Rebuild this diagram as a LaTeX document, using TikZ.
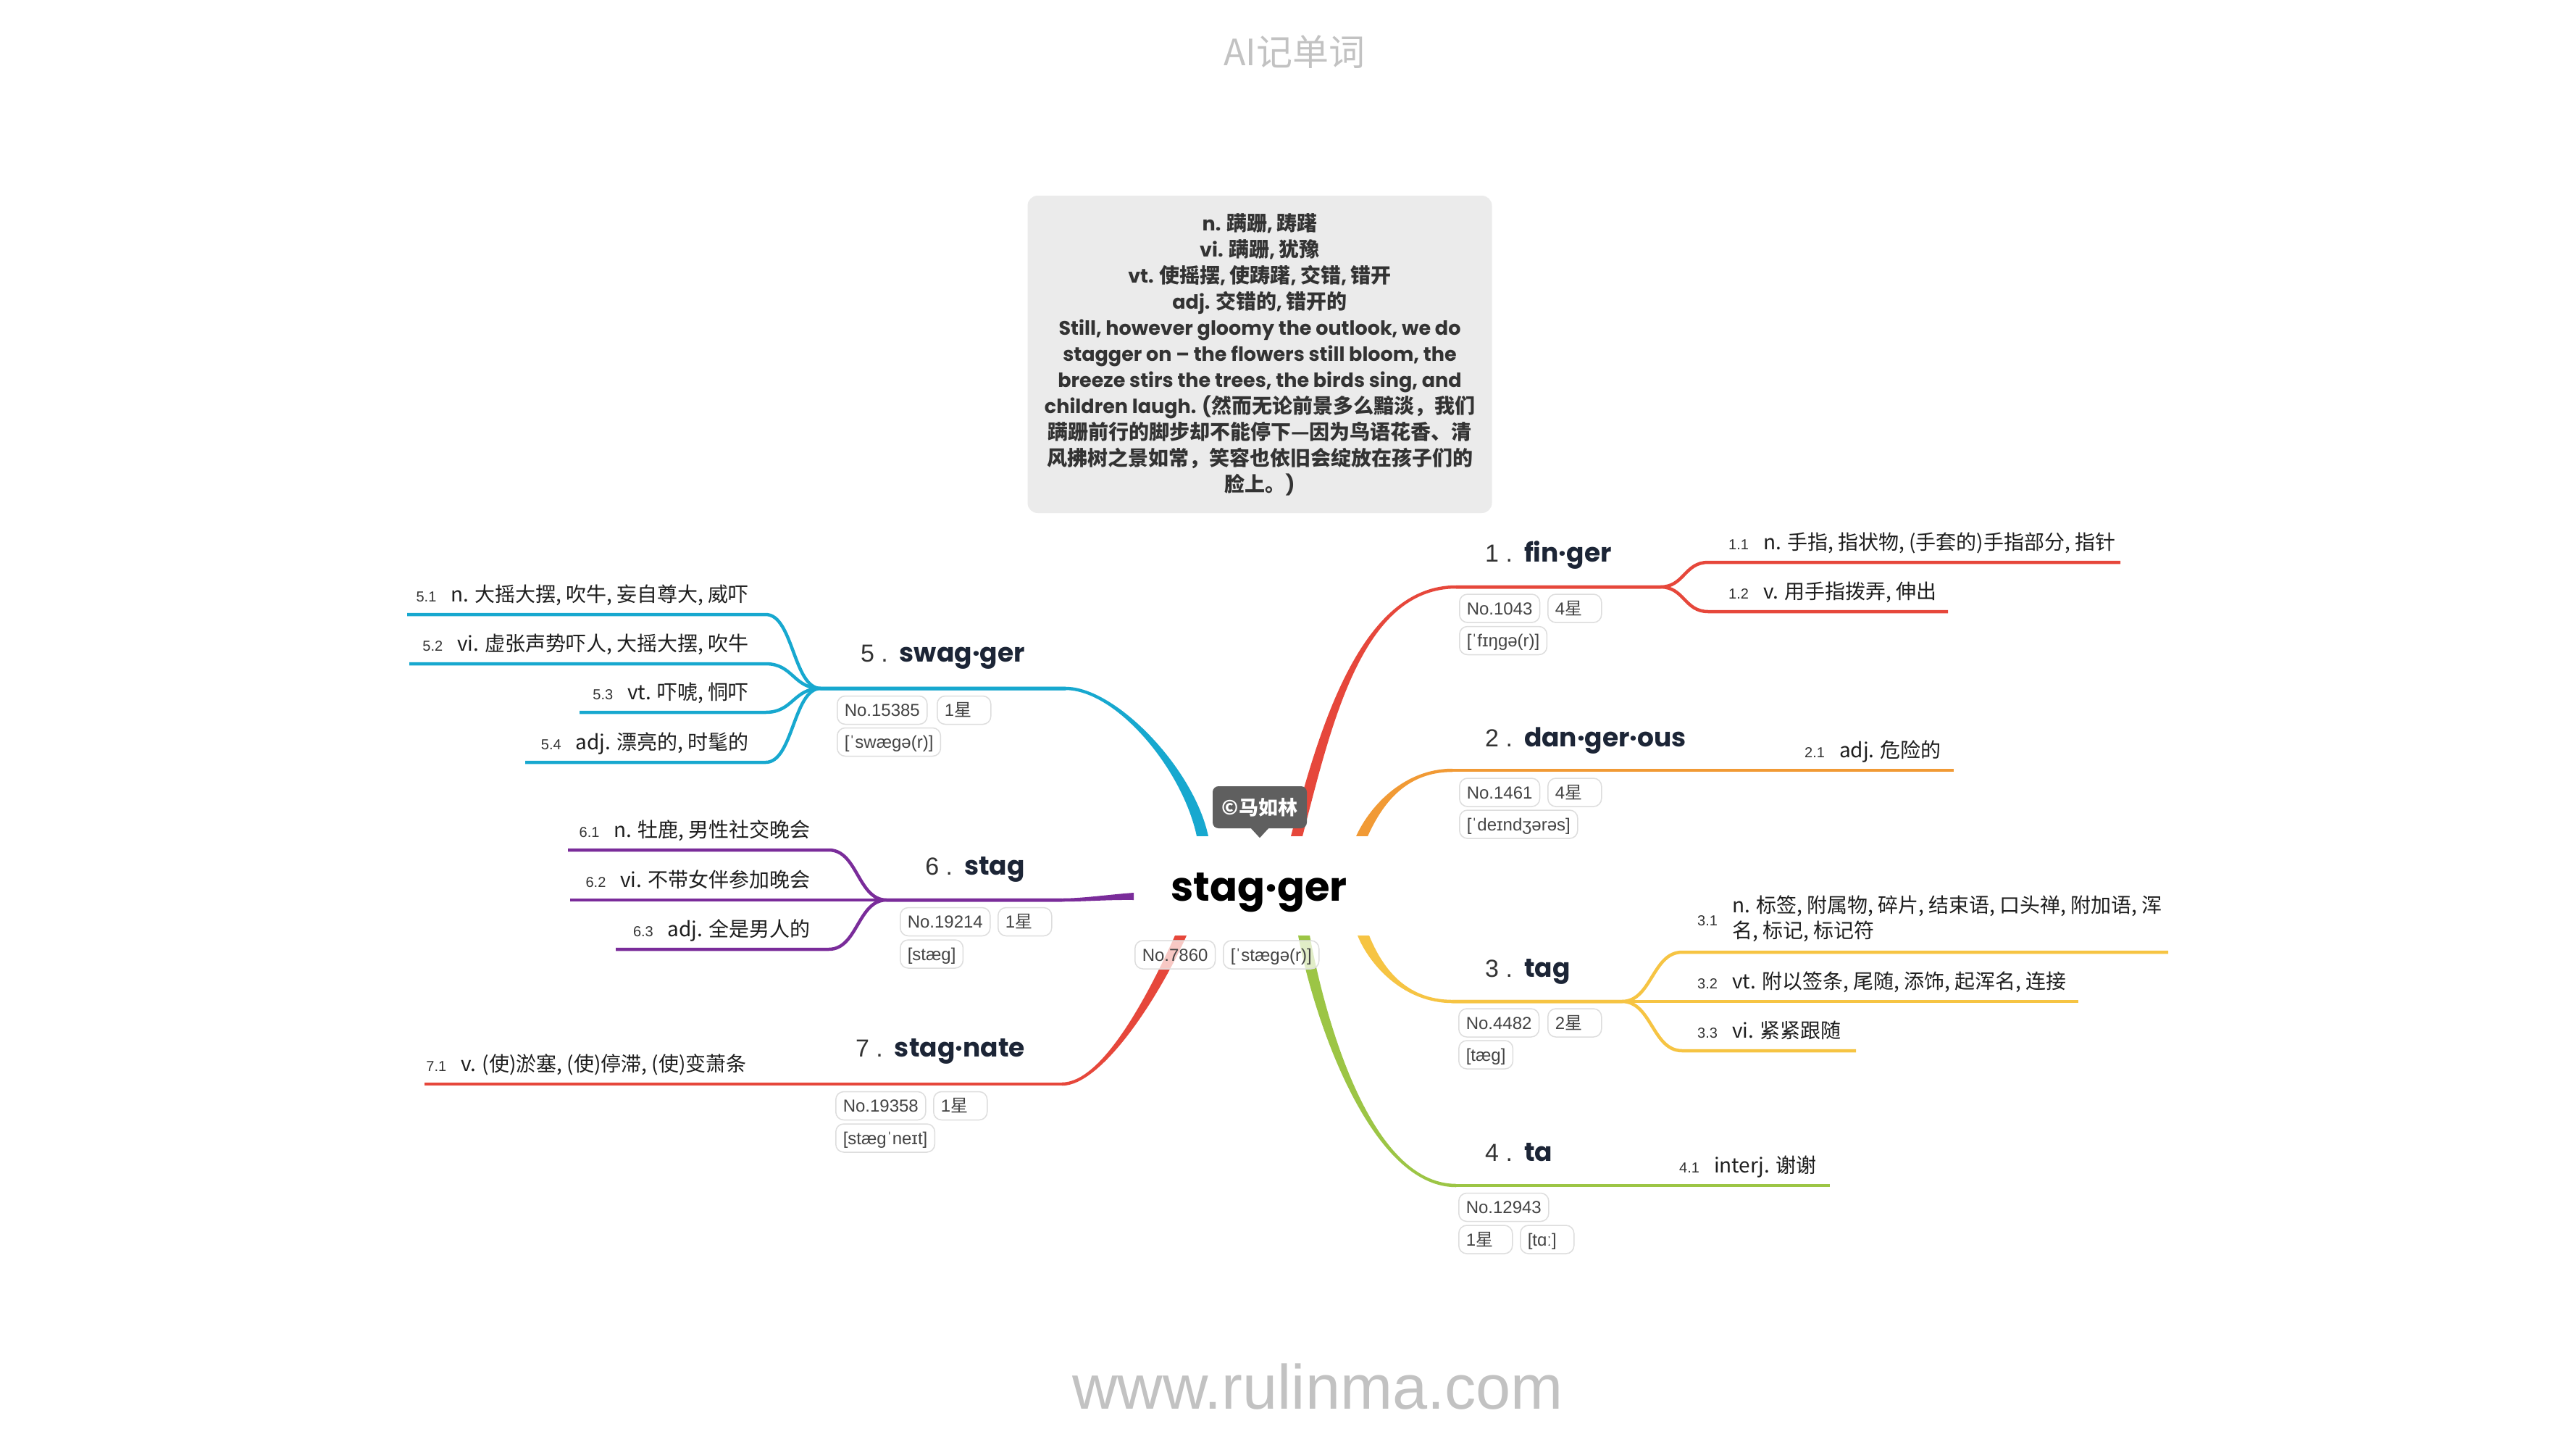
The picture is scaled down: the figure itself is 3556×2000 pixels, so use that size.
\documentclass[tikz,border=0pt]{standalone}
\usepackage{fontspec}
\setmainfont{Liberation Sans}
\newfontfamily\zhfont{Noto Sans CJK SC}
\newfontfamily\popfont{Poppins}
\newfontfamily\libfont{Liberation Sans}
\usetikzlibrary{calc}
\definecolor{cred}{HTML}{E6473B}
\definecolor{corange}{HTML}{F19A35}
\definecolor{cyellow}{HTML}{F6C443}
\definecolor{cgreen}{HTML}{9CC545}
\definecolor{ccyan}{HTML}{17A8CF}
\definecolor{cpurple}{HTML}{7A2C9A}
\definecolor{navy}{HTML}{1C2536}
\definecolor{boxgrey}{HTML}{EBEBEB}
\definecolor{txtgrey}{HTML}{333333}
\definecolor{subtext}{HTML}{1E1E1E}
\definecolor{tagborder}{HTML}{DDDDDD}
\definecolor{tagtext}{HTML}{444444}
\definecolor{bubblegrey}{HTML}{5F5F5F}
\definecolor{wm}{HTML}{C2C2C2}
\newcommand\zh[1]{{\zhfont\bfseries\fontsize{28pt}{36pt}\selectfont #1}}
\newcommand\xing{{\zhfont 星}}
\newcommand\subno[1]{{\libfont\fontsize{20pt}{20pt}\selectfont\color{txtgrey}#1}\hspace{20pt}}
\newcommand\brno[1]{{\libfont\mdseries\fontsize{34pt}{36pt}\selectfont\color{txtgrey}#1\ .}\hspace{16pt}}
\newcommand\trunk[7]{\fill[#1] ($(#2)-(#6,0)$) .. controls ($(#3)-(#6,0)$) and ($(#4)-(0,#7)$) .. ($(#5)-(0,#7)$) -- ($(#5)+(0,#7)$) .. controls ($(#4)+(0,#7)$) and ($(#3)+(#6,0)$) .. ($(#2)+(#6,0)$) -- cycle;}
\tikzset{
  cline/.style={draw=#1, line width=4.5pt, line join=round},
  tagbox/.style={draw=tagborder, line width=1.5pt, rounded corners=11pt, fill=white, fill opacity=0.7, text opacity=1, text=tagtext, font=\libfont\fontsize{24pt}{26pt}\selectfont, inner xsep=10pt, inner ysep=0pt, text height=19pt, text depth=2pt, minimum height=39pt, minimum width=74pt, anchor=west},
  shorttag/.style={tagbox, text width=54pt, align=left},
  sublabel/.style={inner sep=0pt, text=subtext, font=\zhfont\fontsize{28pt}{35pt}\selectfont},
  brtitle/.style={inner sep=0pt, text=navy, font=\popfont\bfseries\fontsize{36pt}{40pt}\selectfont},
}
\begin{document}
\begin{tikzpicture}[x=1pt,y=-1pt]
\useasboundingbox (0,0) rectangle (3556,2000);
\fill[white] (0,0) rectangle (3556,2000);

% header and footer
\node[font=\zhfont\fontsize{50pt}{55pt}\selectfont, text=wm, anchor=base, inner sep=0pt] (apptitle) at (1787,90) {AI记单词};
\node[font=\libfont\fontsize{86.5pt}{90pt}\selectfont, text=wm, anchor=base, inner sep=0pt] (site) at (1819,1944) {www.rulinma.com};

% definition box
\node[fill=boxgrey, rounded corners=14pt, minimum width=641pt, minimum height=438pt, inner sep=0pt, align=center, text=txtgrey, font=\popfont\bfseries\fontsize{27pt}{36pt}\selectfont] (defbox) at (1739,489) {%
n. \zh{蹒跚}, \zh{踌躇}\\
vi. \zh{蹒跚}, \zh{犹豫}\\
vt. \zh{使摇摆}, \zh{使踌躇}, \zh{交错}, \zh{错开}\\
adj. \zh{交错的}, \zh{错开的}\\
Still, however gloomy the outlook, we do\\
stagger on – the flowers still bloom, the\\
breeze stirs the trees, the birds sing, and\\
children laugh. (\zh{然而无论前景多么黯淡，我们}\\
\zh{蹒跚前行的脚步却不能停下—因为鸟语花香、清}\\
\zh{风拂树之景如常，笑容也依旧会绽放在孩子们的}\\
\zh{脸上。})};

% trunk coordinates
\coordinate (t1s) at (1790,1154); \coordinate (t1a) at (1830,1000); \coordinate (t1b) at (1880,810); \coordinate (e1) at (2010,810);
\coordinate (t2s) at (1880,1154); \coordinate (t2a) at (1900,1110); \coordinate (t2b) at (1940,1063); \coordinate (e2) at (2005,1063);
\coordinate (t3s) at (1882,1291); \coordinate (t3a) at (1900,1335); \coordinate (t3b) at (1940,1382); \coordinate (e3) at (2005,1382);
\coordinate (t4s) at (1800,1291); \coordinate (t4a) at (1820,1400); \coordinate (t4b) at (1890,1636); \coordinate (e4) at (2010,1636);
\coordinate (t5s) at (1660,1154); \coordinate (t5a) at (1640,1060); \coordinate (t5b) at (1540,950); \coordinate (e5) at (1471,950);
\coordinate (t7s) at (1630,1291); \coordinate (t7a) at (1590,1380); \coordinate (t7b) at (1520,1496); \coordinate (e7) at (1466,1496);
\coordinate (e6) at (1466,1242);

\trunk{cred}{t1s}{t1a}{t1b}{e1}{8}{2.25}
\trunk{corange}{t2s}{t2a}{t2b}{e2}{8}{2.25}
\trunk{cyellow}{t3s}{t3a}{t3b}{e3}{8}{-2.25}
\trunk{cgreen}{t4s}{t4a}{t4b}{e4}{8}{-2.25}
\trunk{ccyan}{t5s}{t5a}{t5b}{e5}{8}{-2.25}
\trunk{cred}{t7s}{t7a}{t7b}{e7}{8}{2.25}
\fill[cpurple] (1565,1232) .. controls (1530,1234.5) and (1495,1239.75) .. ($(e6)-(0,2.25)$) -- ($(e6)+(0,2.25)$) .. controls (1495,1244.25) and (1530,1241.5) .. (1565,1242) -- cycle;

% branch 1 sub lines
\coordinate (f1) at (2292,810);
\coordinate (s11) at (2358,776); \coordinate (x11) at (2927,776);
\coordinate (s12) at (2358,844); \coordinate (x12) at (2689,844);
\draw[cline=cred] (e1) -- (f1) .. controls ($(f1)+(33,0)$) and ($(s11)-(33,0)$) .. (s11) -- (x11);
\draw[cline=cred] (e1) -- (f1) .. controls ($(f1)+(33,0)$) and ($(s12)-(33,0)$) .. (s12) -- (x12);
% branch 2
\coordinate (x21) at (2697,1063);
\draw[cline=corange] (e2) -- (x21);
% branch 3
\coordinate (f3) at (2239,1382);
\coordinate (s31) at (2322,1314); \coordinate (x31) at (2993,1314);
\coordinate (x32) at (2869,1382);
\coordinate (s33) at (2322,1450); \coordinate (x33) at (2562,1450);
\draw[cline=cyellow] (e3) -- (f3) .. controls ($(f3)+(41,0)$) and ($(s31)-(41,0)$) .. (s31) -- (x31);
\draw[cline=cyellow] (e3) -- (x32);
\draw[cline=cyellow] (e3) -- (f3) .. controls ($(f3)+(41,0)$) and ($(s33)-(41,0)$) .. (s33) -- (x33);
% branch 4
\coordinate (x41) at (2526,1636);
\draw[cline=cgreen] (e4) -- (x41);
% branch 5
\coordinate (f5) at (1133,950);
\coordinate (s51) at (1057,848); \coordinate (x51) at (562,848);
\coordinate (s52) at (1057,916); \coordinate (x52) at (565,916);
\coordinate (s53) at (1057,983); \coordinate (x53) at (800,983);
\coordinate (s54) at (1057,1052); \coordinate (x54) at (725,1052);
\foreach \k in {51,52,53,54}{
  \draw[cline=ccyan] (e5) -- (f5) .. controls ($(f5)-(38,0)$) and ($(s\k)+(38,0)$) .. (s\k) -- (x\k);
}
% branch 6
\coordinate (f6) at (1224,1242);
\coordinate (s61) at (1144,1173); \coordinate (x61) at (784,1173);
\coordinate (x62) at (787,1242);
\coordinate (s63) at (1144,1310); \coordinate (x63) at (850,1310);
\draw[cline=cpurple] (e6) -- (f6) .. controls ($(f6)-(40,0)$) and ($(s61)+(40,0)$) .. (s61) -- (x61);
\draw[cline=cpurple] (e6) -- (x62);
\draw[cline=cpurple] (e6) -- (f6) .. controls ($(f6)-(40,0)$) and ($(s63)+(40,0)$) .. (s63) -- (x63);
% branch 7
\coordinate (x71) at (586,1496);
\draw[cline=cred] (e7) -- (x71);

% central node
\node[anchor=base, fill=white, inner sep=0pt, text height=89pt, text depth=48pt, minimum width=345pt, font=\popfont\bfseries\fontsize{56pt}{60pt}\selectfont] (center) at (1738,1243) {stag·ger};
\node[fill=bubblegrey, rounded corners=8pt, text=white, font=\zhfont\bfseries\fontsize{27pt}{30pt}\selectfont, minimum width=130pt, minimum height=58pt, inner sep=0pt] (copy) at (1739,1114) {©马如林};
\fill[bubblegrey] ($(copy.south)+(-12,0)$) -- ($(copy.south)+(0,13)$) -- ($(copy.south)+(12,0)$) -- cycle;
\node[tagbox] (cn) at (1566,1317.5) {No.7860};
\node[tagbox] (cp) at (1688,1317.5) {[ˈstægə(r)]};

% branch titles and tags
\node[brtitle, anchor=base west] (b1) at (2050,775) {\brno{1}fin·ger};
\node[tagbox] (b1n) at (2014,839.5) {No.1043};
\node[shorttag] (b1s) at (2136,839.5) {4\xing};
\node[tagbox] (b1p) at (2014,884) {[ˈfɪŋgə(r)]};

\node[brtitle, anchor=base west] (b2) at (2050,1030) {\brno{2}dan·ger·ous};
\node[tagbox] (b2n) at (2014,1093.5) {No.1461};
\node[shorttag] (b2s) at (2136,1093.5) {4\xing};
\node[tagbox] (b2p) at (2014,1137.5) {[ˈdeɪndʒərəs]};

\node[brtitle, anchor=base west] (b3) at (2050,1348) {\brno{3}tag};
\node[tagbox] (b3n) at (2013,1411.5) {No.4482};
\node[shorttag] (b3s) at (2136,1411.5) {2\xing};
\node[tagbox] (b3p) at (2013,1455.5) {[tæg]};

\node[brtitle, anchor=base west] (b4) at (2050,1602) {\brno{4}ta};
\node[tagbox] (b4n) at (2013,1666) {No.12943};
\node[shorttag] (b4s) at (2013,1710.5) {1\xing};
\node[shorttag] (b4p) at (2098,1710.5) {[tɑː]};

\node[brtitle, anchor=base east] (b5) at (1415,913) {\brno{5}swag·ger};
\node[tagbox] (b5n) at (1155,980) {No.15385};
\node[shorttag] (b5s) at (1293,980) {1\xing};
\node[tagbox] (b5p) at (1155,1024) {[ˈswægə(r)]};

\node[brtitle, anchor=base east] (b6) at (1415,1207) {\brno{6}stag};
\node[tagbox] (b6n) at (1242,1272) {No.19214};
\node[shorttag] (b6s) at (1377,1272) {1\xing};
\node[tagbox] (b6p) at (1242,1316.5) {[stæg]};

\node[brtitle, anchor=base east] (b7) at (1415,1458) {\brno{7}stag·nate};
\node[tagbox] (b7n) at (1153,1526) {No.19358};
\node[shorttag] (b7s) at (1288,1526) {1\xing};
\node[tagbox] (b7p) at (1153,1570.5) {[stægˈneɪt]};

% sub labels
\node[sublabel, anchor=base west] (l11) at (2386,758) {\subno{1.1}n. 手指, 指状物, (手套的)手指部分, 指针};
\node[sublabel, anchor=base west] (l12) at (2386,826) {\subno{1.2}v. 用手指拨弄, 伸出};
\node[sublabel, anchor=base west] (l21) at (2491,1045) {\subno{2.1}adj. 危险的};
\node[anchor=base west, inner sep=0pt, font=\libfont\fontsize{20pt}{20pt}\selectfont, text=txtgrey] (l31n) at (2343,1277) {3.1};
\node[sublabel, anchor=base west] (l31a) at (2391,1259) {n. 标签, 附属物, 碎片, 结束语, 口头禅, 附加语, 浑};
\node[sublabel, anchor=base west] (l31b) at (2391,1294) {名, 标记, 标记符};
\node[sublabel, anchor=base west] (l32) at (2343,1364) {\subno{3.2}vt. 附以签条, 尾随, 添饰, 起浑名, 连接};
\node[sublabel, anchor=base west] (l33) at (2343,1432) {\subno{3.3}vi. 紧紧跟随};
\node[sublabel, anchor=base west] (l41) at (2318,1618) {\subno{4.1}interj. 谢谢};

\node[sublabel, anchor=base east] (l51) at (1034,830) {\subno{5.1}n. 大摇大摆, 吹牛, 妄自尊大, 威吓};
\node[sublabel, anchor=base east] (l52) at (1034,898) {\subno{5.2}vi. 虚张声势吓人, 大摇大摆, 吹牛};
\node[sublabel, anchor=base east] (l53) at (1034,965) {\subno{5.3}vt. 吓唬, 恫吓};
\node[sublabel, anchor=base east] (l54) at (1034,1034) {\subno{5.4}adj. 漂亮的, 时髦的};
\node[sublabel, anchor=base east] (l61) at (1119,1155) {\subno{6.1}n. 牡鹿, 男性社交晚会};
\node[sublabel, anchor=base east] (l62) at (1119,1224) {\subno{6.2}vi. 不带女伴参加晚会};
\node[sublabel, anchor=base east] (l63) at (1119,1292) {\subno{6.3}adj. 全是男人的};
\node[sublabel, anchor=base east] (l71) at (1031,1478) {\subno{7.1}v. (使)淤塞, (使)停滞, (使)变萧条};
\end{tikzpicture}
\end{document}
